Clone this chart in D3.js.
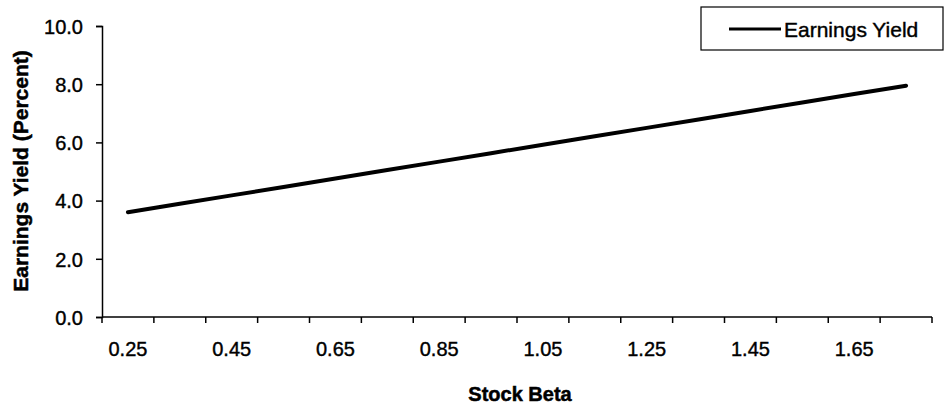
<!DOCTYPE html>
<html>
<head>
<meta charset="utf-8">
<script src="https://cdn.jsdelivr.net/npm/d3@7"></script>
<style>
  body { margin: 0; background: #fff; }
  text { font-family: "Liberation Sans", Arial, sans-serif; fill: #000; }
</style>
</head>
<body>
<svg id="chart"></svg>
<script>
var betas = ["0.25", "0.35", "0.45", "0.55", "0.65", "0.75", "0.85", "0.95",
             "1.05", "1.15", "1.25", "1.35", "1.45", "1.55", "1.65", "1.75"];
var earningsYield = [3.60, 3.89, 4.18, 4.47, 4.76, 5.05, 5.34, 5.63,
                     5.92, 6.21, 6.50, 6.79, 7.08, 7.37, 7.66, 7.95];
var xLabels = ["0.25", "0.45", "0.65", "0.85", "1.05", "1.25", "1.45", "1.65"];
var yTicks = [0, 2, 4, 6, 8, 10];

var width = 945, height = 406;
var svg = d3.select("#chart")
  .attr("width", width)
  .attr("height", height);

var x = d3.scaleBand()
  .domain(betas)
  .range([102, 932])
  .padding(0);
var y = d3.scaleLinear()
  .domain([0, 10])
  .range([317, 26]);

// y axis
var yAxis = d3.axisLeft(y)
  .tickValues(yTicks)
  .tickSize(6)
  .tickFormat(d3.format(".1f"));
var gy = svg.append("g")
  .attr("transform", "translate(102,0)")
  .call(yAxis);
gy.select(".domain").attr("stroke", "#000").attr("stroke-width", 1.5);
gy.selectAll(".tick line").attr("stroke", "#000").attr("stroke-width", 1.5);
gy.selectAll(".tick text")
  .attr("x", -19)
  .attr("dy", "0.36em")
  .attr("stroke", "#000")
  .attr("stroke-width", 0.4)
  .style("font-size", "20px")
  .style("font-family", "Liberation Sans, Arial, sans-serif");

// x axis (category style: ticks between categories)
var gx = svg.append("g");
gx.append("line")
  .attr("x1", x.range()[0]).attr("x2", x.range()[1])
  .attr("y1", y(0)).attr("y2", y(0))
  .attr("stroke", "#000").attr("stroke-width", 1.5);
var edges = betas.map(function(d) { return x(d); }).concat([x.range()[1]]);
gx.selectAll("line.tick")
  .data(edges)
  .enter().append("line")
    .attr("class", "tick")
    .attr("x1", function(d) { return d; })
    .attr("x2", function(d) { return d; })
    .attr("y1", y(0))
    .attr("y2", y(0) + 6)
    .attr("stroke", "#000").attr("stroke-width", 1.5);
gx.selectAll("text")
  .data(xLabels)
  .enter().append("text")
    .attr("x", function(d) { return x(d) + x.bandwidth() / 2; })
    .attr("y", 356)
    .attr("text-anchor", "middle")
    .attr("stroke", "#000")
    .attr("stroke-width", 0.4)
    .style("font-size", "20px")
    .text(function(d) { return d; });

// axis titles
svg.append("text")
  .attr("x", 520)
  .attr("y", 401)
  .attr("text-anchor", "middle")
  .attr("stroke", "#000")
  .attr("stroke-width", 0.5)
  .style("font-size", "20px")
  .style("font-weight", "bold")
  .text("Stock Beta");
svg.append("text")
  .attr("transform", "translate(28,171) rotate(-90)")
  .attr("text-anchor", "middle")
  .attr("stroke", "#000")
  .attr("stroke-width", 0.5)
  .style("font-size", "21px")
  .style("font-weight", "bold")
  .text("Earnings Yield (Percent)");

// series line
var line = d3.line()
  .x(function(d, i) { return x(betas[i]) + x.bandwidth() / 2; })
  .y(function(d) { return y(d); });
svg.append("path")
  .datum(earningsYield)
  .attr("d", line)
  .attr("fill", "none")
  .attr("stroke", "#000")
  .attr("stroke-width", 4)
  .attr("stroke-linecap", "round");

// legend
var legend = svg.append("g");
legend.append("rect")
  .attr("x", 701).attr("y", 7)
  .attr("width", 242).attr("height", 43)
  .attr("fill", "#fff")
  .attr("stroke", "#000").attr("stroke-width", 1.2);
legend.append("line")
  .attr("x1", 729).attr("x2", 781)
  .attr("y1", 29).attr("y2", 29)
  .attr("stroke", "#000").attr("stroke-width", 3);
legend.append("text")
  .attr("x", 784)
  .attr("y", 37)
  .attr("stroke", "#000")
  .attr("stroke-width", 0.4)
  .style("font-size", "21px")
  .text("Earnings Yield");
</script>
</body>
</html>
